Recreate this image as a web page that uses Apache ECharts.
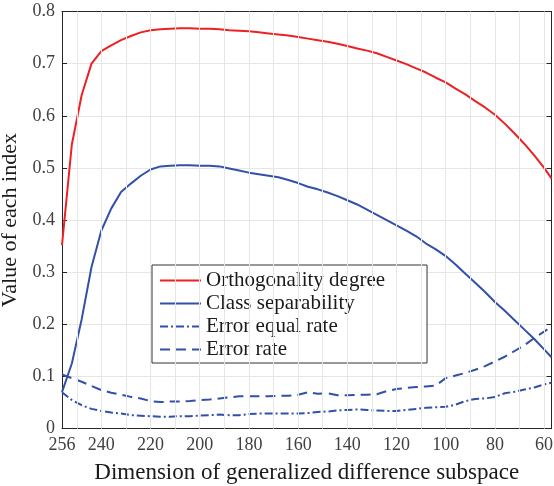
<!DOCTYPE html>
<html>
<head>
<meta charset="utf-8">
<script src="https://cdn.jsdelivr.net/npm/echarts@6/dist/echarts.min.js"></script>
<style>
html,body{margin:0;padding:0;background:#fff;}
#chart{width:554px;height:486px;}
</style>
</head>
<body>
<div id="chart"></div>
<script>
const dims = [256,252,248,244,240,236,232,228,224,220,216,212,208,204,200,196,192,188,184,180,176,172,168,164,160,156,152,148,144,140,136,132,128,124,120,116,112,108,104,100,96,92,88,84,80,76,72,68,64,60,57];
const orthogonality = [0.352,0.545,0.640,0.700,0.724,0.735,0.745,0.753,0.760,0.764,0.766,0.767,0.768,0.768,0.767,0.767,0.766,0.764,0.763,0.762,0.760,0.758,0.756,0.754,0.751,0.748,0.745,0.742,0.738,0.734,0.729,0.725,0.720,0.713,0.706,0.699,0.691,0.683,0.673,0.664,0.652,0.641,0.628,0.616,0.602,0.585,0.566,0.546,0.524,0.500,0.480];
const separability = [0.070,0.125,0.210,0.310,0.380,0.422,0.454,0.470,0.485,0.497,0.503,0.504,0.505,0.505,0.504,0.504,0.503,0.499,0.495,0.491,0.488,0.485,0.482,0.477,0.471,0.464,0.459,0.453,0.446,0.438,0.430,0.420,0.410,0.400,0.390,0.380,0.369,0.355,0.344,0.331,0.315,0.297,0.280,0.262,0.243,0.226,0.208,0.190,0.172,0.152,0.137];
const equalErrorRate = [0.070,0.055,0.045,0.038,0.034,0.031,0.029,0.026,0.025,0.024,0.023,0.023,0.024,0.024,0.025,0.026,0.027,0.026,0.026,0.028,0.029,0.029,0.029,0.029,0.029,0.030,0.032,0.033,0.035,0.036,0.037,0.036,0.035,0.034,0.034,0.036,0.038,0.040,0.041,0.042,0.046,0.053,0.057,0.058,0.061,0.068,0.071,0.075,0.079,0.085,0.088];
const errorRate = [0.104,0.097,0.090,0.082,0.074,0.069,0.065,0.061,0.058,0.053,0.051,0.052,0.052,0.053,0.055,0.056,0.058,0.060,0.062,0.062,0.062,0.062,0.063,0.063,0.065,0.070,0.067,0.068,0.064,0.064,0.065,0.065,0.066,0.072,0.076,0.078,0.080,0.081,0.083,0.097,0.102,0.107,0.113,0.120,0.129,0.138,0.149,0.160,0.174,0.186,0.196];
const xTickLabels = [256,240,220,200,180,160,140,120,100,80,60];
const xGridValues = [250,240,230,220,210,200,190,180,170,160,150,140,130,120,110,100,90,80,70,60];

const FONT = "'Liberation Serif','Times New Roman',serif";
const AXC = '#262626';
const RED = '#ee2024';
const BLUE = '#3350a8';

const pair = arr => dims.map((d,i)=>[d, arr[i]]);

const chart = echarts.init(document.getElementById('chart'), null, {renderer:'canvas'});
const baseX = {
  type:'value', min:57, max:256, inverse:true,
  axisLine:{show:true, onZero:false, lineStyle:{color:AXC, width:1}},
  axisTick:{show:true, inside:true, length:5, customValues:xTickLabels, lineStyle:{color:AXC}},
  splitLine:{show:false}
};
const baseY = {
  type:'value', min:0, max:0.8, interval:0.1,
  axisLine:{show:true, lineStyle:{color:AXC, width:1}},
  axisTick:{show:true, inside:true, length:5, lineStyle:{color:AXC}}
};
chart.setOption({
  animation:false,
  backgroundColor:'#fff',
  grid:{left:62, right:2.5, top:11.5, bottom:57.3, containLabel:false, outerBoundsMode:'none'},
  xAxis:[
    Object.assign({}, baseX, {
      position:'bottom',
      name:'Dimension of generalized difference subspace',
      nameLocation:'middle', nameGap:33,
      nameTextStyle:{fontFamily:FONT, fontSize:23, color:'#1a1a1a'},
      axisLabel:{show:true, customValues:xTickLabels, margin:8, fontFamily:FONT, fontSize:18, color:'#404040'}
    }),
    Object.assign({}, baseX, {position:'top', axisLabel:{show:false}})
  ],
  yAxis:[
    Object.assign({}, baseY, {
      position:'left',
      name:'Value of each index', nameLocation:'middle', nameGap:31, nameRotate:90,
      nameTextStyle:{fontFamily:FONT, fontSize:22, color:'#1a1a1a'},
      axisLabel:{margin:7, fontFamily:FONT, fontSize:18, color:'#404040'},
      splitLine:{show:true, lineStyle:{color:'#e6e6e6', width:1}}
    }),
    Object.assign({}, baseY, {position:'right', axisLabel:{show:false}, splitLine:{show:false}})
  ],
  legend:{
    orient:'vertical', left:152, top:265,
    data:['Orthogonality degree','Class separability','Error equal rate','Error rate'],
    itemWidth:41, itemHeight:10, itemGap:0,
    padding:[4,42,2,7],
    backgroundColor:'#fff', borderColor:'#333', borderWidth:1,
    itemStyle:{opacity:0},
    textStyle:{fontFamily:FONT, fontSize:21, color:'#1a1a1a', lineHeight:23}
  },
  series:[
    {
      name:'_grid', type:'line', data:[], silent:true, z:1,
      markLine:{silent:true, symbol:['none','none'], label:{show:false},
        lineStyle:{color:'#e6e6e6', width:1, type:'solid'},
        data:xGridValues.map(v=>({xAxis:v}))}
    },
    {name:'Orthogonality degree', type:'line', data:pair(orthogonality), symbol:'none', z:3,
      lineStyle:{color:RED, width:2}, itemStyle:{color:RED}},
    {name:'Class separability', type:'line', data:pair(separability), symbol:'none', z:3,
      lineStyle:{color:BLUE, width:2}, itemStyle:{color:BLUE}},
    {name:'Error equal rate', type:'line', data:pair(equalErrorRate), symbol:'none', z:3,
      lineStyle:{color:BLUE, width:2, type:[8,3,2,3]}, itemStyle:{color:BLUE}},
    {name:'Error rate', type:'line', data:pair(errorRate), symbol:'none', z:3,
      lineStyle:{color:BLUE, width:2, type:[10,6]}, itemStyle:{color:BLUE}}
  ]
});
</script>
</body>
</html>
